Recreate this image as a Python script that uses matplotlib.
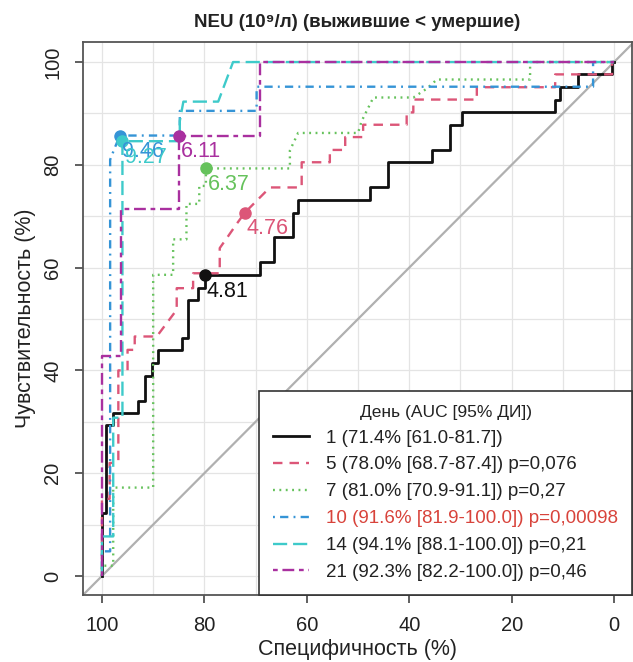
import matplotlib
matplotlib.use("Agg")
import matplotlib.pyplot as plt
from matplotlib.lines import Line2D

plt.rcParams['font.family'] = ['Liberation Sans', 'DejaVu Sans']

# ---------------- data ----------------
days = ["1", "5", "7", "10", "14", "21"]
legend_labels = [
    "1 (71.4% [61.0-81.7])",
    "5 (78.0% [68.7-87.4]) p=0,076",
    "7 (81.0% [70.9-91.1]) p=0,27",
    "10 (91.6% [81.9-100.0]) p=0,00098",
    "14 (94.1% [88.1-100.0]) p=0,21",
    "21 (92.3% [82.2-100.0]) p=0,46",
]

spec_d1 = [100, 100, 99.2, 99.2, 97.8, 97.8, 92.9, 92.9, 91.6, 91.6, 90.3, 90.3, 89.0, 89.0,
           84.4, 84.4, 83.1, 83.1, 81.2, 81.2, 79.9, 79.9, 69.1, 69.1, 66.5, 66.5, 62.7, 62.7,
           61.7, 61.7, 47.7, 47.7, 44.1, 44.1, 35.6, 35.6, 32.0, 32.0, 29.6, 29.6, 11.5, 11.5,
           10.5, 10.5, 7.0, 7.0, 0.4, 0.4, 0]
sens_d1 = [0, 12.2, 12.2, 29.3, 29.3, 31.7, 31.7, 34.1, 34.1, 39.0, 39.0, 41.5, 41.5, 43.9,
           43.9, 46.3, 46.3, 53.7, 53.7, 56.1, 56.1, 58.5, 58.5, 61.0, 61.0, 65.9, 65.9, 70.7,
           70.7, 73.2, 73.2, 75.6, 75.6, 80.5, 80.5, 82.9, 82.9, 87.8, 87.8, 90.2, 90.2, 92.7,
           92.7, 95.1, 95.1, 97.6, 97.6, 100, 100]

spec_d5 = [100, 100, 98.5, 98.5, 96.8, 96.8, 95.0, 95.0, 93.6, 93.6, 89.3, 87.5, 85.4, 85.4,
           82.2, 82.2, 77.0, 77.0, 75.3, 73.7, 72.1, 69.6, 67.2, 61.0, 61.0, 55.5, 55.5, 52.5,
           52.5, 49.0, 49.0, 40.5, 40.5, 39.2, 39.2, 26.8, 26.8, 11.5, 11.5, 0.4, 0.4, 0]
sens_d5 = [0, 15.0, 15.0, 22.0, 22.0, 40.0, 40.0, 44.0, 44.0, 46.6, 46.6, 49.0, 51.8, 56.0,
           56.0, 58.9, 58.9, 63.8, 66.2, 68.5, 70.7, 73.2, 75.6, 75.6, 80.5, 80.5, 82.9, 82.9,
           85.4, 85.4, 87.8, 87.8, 90.2, 90.2, 92.7, 92.7, 95.1, 95.1, 97.6, 97.6, 100, 100]

spec_d7 = [100, 100, 97.8, 97.8, 90.0, 90.0, 86.1, 86.1, 83.5, 83.5, 81.0, 81.0, 79.7, 79.7,
           63.3, 63.3, 61.7, 50.0, 49.3, 47.0, 39.2, 36.6, 34.6, 16.4, 16.4, 0]
sens_d7 = [0, 2.0, 2.0, 17.2, 17.2, 58.6, 58.6, 65.5, 65.5, 72.4, 72.4, 75.9, 75.9, 79.3,
           79.3, 82.8, 86.2, 86.2, 88.5, 93.1, 93.1, 94.8, 96.6, 96.6, 100, 100]

spec_d10 = [100, 100, 98.4, 98.4, 97.5, 96.5, 84.8, 84.8, 69.8, 69.8, 4.1, 4.1, 0]
sens_d10 = [0, 4.8, 4.8, 81.0, 83.3, 85.7, 85.7, 90.5, 90.5, 95.2, 95.2, 100, 100]

spec_d14 = [100, 100, 97.8, 97.8, 96.0, 96.0, 84.8, 84.8, 84.1, 77.3, 74.4, 0]
sens_d14 = [0, 7.7, 7.7, 30.8, 30.8, 84.6, 84.6, 88.5, 92.3, 92.3, 100, 100]

spec_d21 = [100, 100, 96.2, 96.2, 85.0, 85.0, 69.1, 69.1, 0]
sens_d21 = [0, 42.9, 42.9, 71.4, 71.4, 85.7, 85.7, 100, 100]

thr_spec = [79.9, 72.1, 79.7, 96.5, 96.0, 85.0]
thr_sens = [58.5, 70.7, 79.3, 85.7, 84.6, 85.7]
thr_labels = ["4.81", "4.76", "6.37", "9.46", "9.27", "6.11"]

# ---------------- styles ----------------
colors = ['#111111', '#DC5678', '#66C25C', '#3594D6', '#3ECACA', '#A9309F']
styles = ['-', (0, (4, 3)), (0, (0.8, 1.9)), (0, (0.8, 2.2, 3.5, 2.2)),
          (0, (6, 2.5)), (0, (2, 2, 5, 2))]
widths = [2.0, 1.7, 1.7, 1.7, 1.7, 1.7]

specs = [spec_d1, spec_d5, spec_d7, spec_d10, spec_d14, spec_d21]
senss = [sens_d1, sens_d5, sens_d7, sens_d10, sens_d14, sens_d21]

fig = plt.figure(figsize=(6.33, 6.62), dpi=100)
W, H = 633, 662
left, right, top, bottom = 83, 632, 42, 595
ax = fig.add_axes([left / W, 1 - bottom / H, (right - left) / W, (bottom - top) / H])

ax.set_xlim(103.7, -3.5)
ax.set_ylim(-3.7, 103.9)

# grid
for v in range(0, 101, 10):
    ax.axvline(v, color='#E4E4E4', lw=0.9, zorder=0)
    ax.axhline(v, color='#E4E4E4', lw=0.9, zorder=0)

# diagonal
ax.axline((100, 0), (0, 100), color='#B0B0B0', lw=1.6, zorder=1)

for i in range(len(days)):
    ax.plot(specs[i], senss[i], color=colors[i], ls=styles[i], lw=widths[i], zorder=2 + i)
    ax.plot(thr_spec[i], thr_sens[i], 'o', color=colors[i], ms=8, zorder=10 + i)
    ax.annotate(thr_labels[i], (thr_spec[i], thr_sens[i]), xytext=(1.5, -4),
                textcoords='offset points', ha='left', va='top', fontsize=15.5,
                color=colors[i], zorder=20 + i)

ax.set_xticks([100, 80, 60, 40, 20, 0])
ax.set_yticks([0, 20, 40, 60, 80, 100])
ax.tick_params(axis='both', labelsize=14.5, length=6, width=1.2, color='#444444',
               labelcolor='#222222', pad=9)
for lab in ax.get_yticklabels():
    lab.set_rotation(90)
    lab.set_va('center')
for sp in ax.spines.values():
    sp.set_color('#555555')
    sp.set_linewidth(1.3)

ax.set_xlabel("Специфичность (%)", fontsize=15.5, color='#222222', labelpad=3)
ax.set_ylabel("Чувствительность (%)", fontsize=15.5, color='#222222', labelpad=5)
ax.set_title("NEU (10⁹/л) (выжившие < умершие)", fontsize=13.5, fontweight='bold',
             color='#222222', pad=11)

handles = [Line2D([0], [0], color=colors[i], ls=styles[i], lw=widths[i]) for i in range(len(days))]
leg = ax.legend(handles, legend_labels, title="День (AUC [95% ДИ])", loc='lower right',
                bbox_to_anchor=(1, 0), borderaxespad=0, fontsize=13.5, title_fontsize=12.5,
                frameon=True, fancybox=False, framealpha=1, edgecolor='#333333',
                handlelength=1.9, handletextpad=0.9, labelspacing=0.52, borderpad=0.75)
leg.get_frame().set_linewidth(1.2)
leg.set_zorder(50)
for t in leg.get_texts():
    t.set_color('#222222')
leg.get_texts()[3].set_color('#D8433B')
leg.get_title().set_color('#222222')

fig.savefig("out.png", dpi=100)
